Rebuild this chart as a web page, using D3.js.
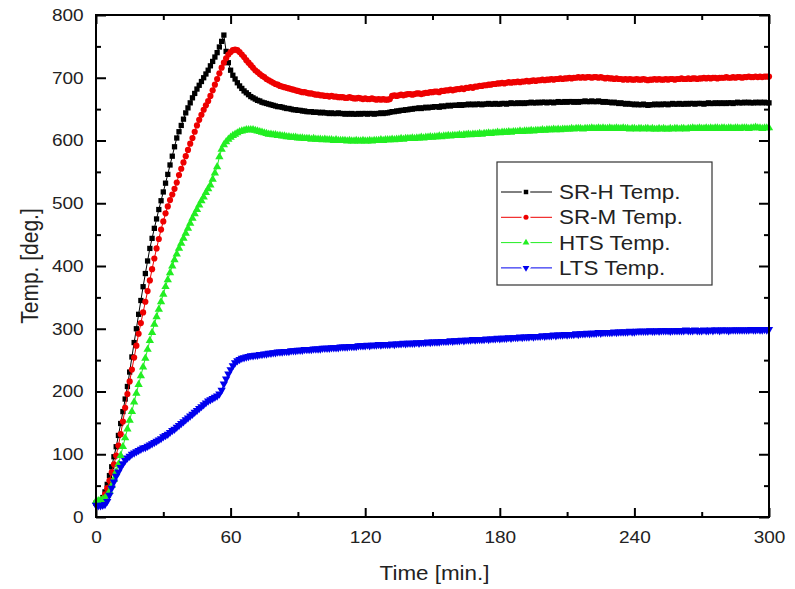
<!DOCTYPE html>
<html>
<head>
    <title>Temperature vs Time</title>
    <script src="https://d3js.org/d3.v7.min.js"></script>
    <style>
        body { margin: 0; background: #fff; }
        text { font-family: "Liberation Sans", Arial, sans-serif; fill: #222; }
        .frame { fill: none; stroke: #000; stroke-width: 2px; }
        .axis path { display: none; }
        .axis line { stroke: #000; stroke-width: 2px; }
        .axis text { font-size: 17px; }
        .series { fill: none; stroke-width: 1px; }
    </style>
</head>
<body>
    <svg width="795" height="589"></svg>
    <script>
        // sampling: one reading per minute, 0..300 min
        const minutes = d3.range(0, 301, 1);

        const srH = [
            22, 23, 25, 31, 40, 52, 66, 80, 96, 112,
            130, 149, 168, 188, 208, 231, 255, 278, 300, 323,
            345, 367, 388, 408, 428, 444, 460, 475, 490, 504,
            518, 532, 546, 561, 575, 590, 604, 614, 624, 634,
            644, 652, 660, 668, 675, 682, 688, 694, 700, 706,
            712, 719, 726, 733, 740, 749, 758, 768, 742, 724,
            712, 704, 698, 692, 687, 683, 679, 676, 673, 670,
            668, 666, 664, 663, 661, 660, 659, 658, 657, 656,
            655, 654, 654, 653, 652, 651, 651, 650, 649, 649,
            648, 648, 647, 647, 646, 646, 646, 645, 645, 645,
            644, 645, 644, 644, 643, 644, 643, 643, 644, 643,
            643, 642, 643, 642, 643, 642, 642, 643, 642, 643,
            643, 642, 643, 643, 642, 643, 643, 644, 643, 644,
            644, 645, 646, 646, 647, 647, 648, 648, 649, 649,
            650, 650, 651, 651, 652, 651, 652, 653, 652, 653,
            653, 654, 654, 653, 655, 654, 655, 656, 655, 656,
            656, 656, 657, 656, 657, 657, 658, 657, 658, 657,
            658, 658, 657, 658, 658, 659, 658, 658, 659, 658,
            658, 659, 659, 658, 659, 660, 659, 659, 660, 659,
            660, 659, 660, 660, 661, 660, 660, 661, 660, 661,
            661, 660, 661, 661, 660, 661, 662, 661, 661, 662,
            661, 662, 662, 661, 662, 661, 662, 662, 663, 662,
            662, 663, 662, 662, 663, 662, 661, 662, 661, 661,
            660, 661, 660, 659, 660, 659, 658, 659, 658, 658,
            657, 658, 657, 657, 658, 657, 656, 657, 657, 658,
            657, 658, 657, 658, 658, 657, 658, 659, 658, 658,
            659, 658, 658, 659, 658, 659, 659, 658, 659, 659,
            659, 658, 659, 660, 659, 659, 660, 659, 660, 659,
            660, 659, 660, 660, 659, 660, 661, 660, 660, 661,
            660, 661, 660, 660, 661, 660, 661, 660, 661, 660, 660
        ];

        const srM = [
            22, 23, 25, 29, 36, 46, 58, 71, 84, 98,
            114, 132, 152, 174, 196, 216, 235, 254, 273, 292,
            309, 326, 343, 360, 377, 395, 412, 428, 443, 458,
            471, 484, 495, 505, 514, 523, 533, 545, 555, 565,
            575, 585, 595, 604, 614, 624, 633, 641, 649, 656,
            663, 671, 680, 689, 698, 707, 716, 724, 731, 737,
            741, 744, 745, 744, 741, 737, 733, 728, 724, 720,
            716, 712, 709, 706, 703, 701, 698, 696, 694, 692,
            690, 689, 687, 686, 685, 684, 683, 682, 681, 680,
            679, 678, 677, 677, 676, 675, 675, 674, 673, 673,
            672, 672, 671, 671, 670, 671, 670, 670, 669, 669,
            669, 668, 668, 669, 668, 667, 667, 668, 667, 666,
            667, 666, 666, 667, 666, 665, 666, 665, 666, 665,
            665, 666, 671, 672, 671, 672, 673, 672, 673, 674,
            674, 673, 674, 675, 675, 674, 675, 676, 676, 677,
            677, 678, 678, 677, 679, 679, 680, 680, 681, 680,
            681, 682, 682, 683, 682, 684, 684, 685, 684, 686,
            686, 687, 687, 688, 688, 689, 689, 690, 690, 691,
            691, 692, 691, 692, 693, 692, 693, 693, 694, 693,
            694, 694, 695, 694, 695, 696, 695, 696, 696, 697,
            696, 697, 697, 698, 697, 698, 698, 699, 698, 699,
            699, 700, 699, 700, 700, 701, 700, 701, 700, 701,
            701, 700, 701, 701, 700, 701, 700, 699, 700, 699,
            699, 698, 699, 698, 698, 697, 698, 697, 698, 697,
            697, 698, 697, 697, 698, 697, 696, 697, 697, 698,
            697, 698, 697, 697, 698, 697, 698, 698, 697, 698,
            698, 699, 698, 698, 699, 698, 699, 699, 698, 699,
            699, 700, 699, 700, 699, 700, 700, 699, 700, 700,
            700, 701, 700, 700, 701, 700, 701, 701, 700, 701,
            701, 702, 701, 701, 702, 701, 702, 701, 702, 702, 702
        ];

        const hts = [
            25, 26, 27, 28, 30, 34, 41, 50, 60, 72,
            84, 98, 112, 126, 140, 154, 168, 183, 197, 211,
            225, 239, 253, 267, 281, 294, 307, 319, 331, 343,
            355, 367, 378, 389, 400, 410, 419, 428, 436, 444,
            452, 460, 468, 476, 483, 490, 497, 504, 510, 517,
            523, 529, 538, 548, 558, 574, 586, 593, 598, 602,
            605, 608, 610, 612, 614, 615, 616, 617, 617, 617,
            617, 616, 615, 614, 613, 612, 611, 610, 610, 609,
            609, 608, 608, 607, 607, 606, 606, 605, 605, 605,
            604, 604, 604, 603, 603, 603, 602, 603, 602, 602,
            602, 601, 602, 601, 601, 601, 600, 601, 600, 600,
            600, 600, 599, 600, 599, 599, 600, 599, 599, 600,
            599, 599, 600, 599, 600, 600, 600, 601, 600, 601,
            601, 601, 602, 601, 602, 602, 603, 602, 603, 603,
            603, 604, 603, 604, 604, 605, 604, 605, 605, 606,
            605, 606, 606, 607, 606, 607, 607, 608, 607, 608,
            608, 608, 609, 608, 609, 609, 610, 609, 610, 610,
            610, 611, 610, 611, 611, 612, 611, 612, 612, 613,
            612, 613, 613, 613, 614, 613, 614, 614, 614, 615,
            614, 615, 615, 615, 616, 615, 616, 616, 616, 617,
            616, 617, 617, 617, 618, 617, 618, 617, 618, 618,
            618, 618, 619, 618, 619, 619, 619, 618, 619, 619,
            619, 620, 619, 619, 620, 619, 620, 619, 619, 620,
            619, 619, 620, 619, 619, 620, 619, 619, 618, 619,
            619, 618, 619, 619, 618, 619, 619, 618, 619, 618,
            618, 619, 618, 619, 618, 618, 619, 618, 619, 619,
            618, 619, 619, 618, 619, 619, 620, 619, 619, 620,
            619, 619, 620, 619, 620, 619, 620, 620, 619, 620,
            620, 619, 620, 620, 619, 620, 620, 619, 620, 620,
            620, 619, 620, 620, 621, 620, 620, 619, 620, 620, 620
        ];

        const lts = [
            19, 18, 18, 19, 20, 25, 35, 46, 56, 65,
            72, 79, 85, 90, 94, 97, 100, 102, 104, 106,
            108, 110, 111, 113, 115, 117, 119, 121, 123, 125,
            128, 130, 132, 135, 138, 140, 143, 146, 149, 152,
            155, 158, 161, 164, 167, 170, 173, 176, 179, 182,
            185, 187, 189, 191, 193, 196, 202, 212, 220, 228,
            235, 241, 246, 249, 251, 253, 254, 255, 256, 257,
            257, 258, 258, 259, 259, 260, 260, 261, 261, 262,
            262, 263, 263, 263, 264, 264, 264, 265, 265, 265,
            266, 266, 266, 267, 267, 267, 267, 268, 268, 268,
            268, 269, 269, 269, 269, 270, 270, 270, 270, 271,
            271, 271, 271, 272, 272, 272, 272, 273, 273, 273,
            273, 274, 273, 274, 274, 274, 275, 274, 275, 275,
            275, 275, 276, 275, 276, 276, 276, 277, 276, 277,
            277, 277, 277, 278, 277, 278, 278, 278, 279, 278,
            279, 279, 279, 279, 280, 280, 280, 280, 281, 280,
            281, 281, 281, 282, 281, 282, 282, 282, 283, 282,
            283, 283, 283, 283, 284, 283, 284, 284, 284, 285,
            284, 285, 285, 285, 286, 285, 286, 286, 286, 287,
            286, 287, 287, 287, 288, 287, 288, 288, 288, 289,
            288, 289, 289, 289, 290, 289, 290, 290, 290, 291,
            290, 291, 291, 291, 292, 291, 292, 292, 292, 293,
            292, 293, 293, 293, 294, 293, 294, 294, 294, 294,
            294, 295, 294, 295, 295, 295, 295, 295, 296, 295,
            295, 296, 296, 296, 296, 296, 296, 297, 296, 296,
            297, 296, 297, 297, 297, 297, 296, 297, 297, 297,
            297, 297, 297, 298, 297, 297, 297, 298, 297, 297,
            297, 298, 297, 297, 298, 297, 298, 298, 297, 298,
            298, 298, 297, 298, 298, 298, 298, 298, 298, 298,
            298, 298, 299, 298, 298, 299, 298, 298, 299, 298, 299
        ];

        const seriesNames = ["SR-H Temp.", "SR-M Temp.", "HTS Temp.", "LTS Temp."];
        const seriesValues = [srH, srM, hts, lts];
        const seriesColors = ["#000000", "#ee0000", "#22ee22", "#0000ee"];
        const seriesSymbols = [d3.symbolSquare, d3.symbolCircle, d3.symbolTriangle, d3.symbolTriangle];
        const seriesFlip = [false, false, false, true];
        const symbolSizes = [28, 30, 30, 30];

        const xTicks = [0, 60, 120, 180, 240, 300];
        const yTicks = [0, 100, 200, 300, 400, 500, 600, 700, 800];

        const stretch = 1.12; // the picture is a bit wider than tall
        const plotLeft = 96, plotRight = 769, plotTop = 15, plotBottom = 517;

        const svg = d3.select("svg");
        const x = d3.scaleLinear().domain([0, 300]).range([plotLeft, plotRight]);
        const y = d3.scaleLinear().domain([0, 800]).range([plotBottom, plotTop]);

        // axes, ticks pointing inward
        svg.append("g").attr("class", "axis")
            .attr("transform", `translate(0,${plotBottom})`)
            .call(d3.axisBottom(x).tickValues(xTicks).tickSizeInner(-9).tickSizeOuter(0).tickPadding(14))
            .selectAll("text").attr("dy", "0.71em").attr("transform", `scale(${stretch},1)`);
        svg.append("g").attr("class", "axis")
            .attr("transform", `translate(0,${plotBottom})`)
            .call(d3.axisBottom(x).tickValues([30, 90, 150, 210, 270]).tickSizeInner(-5).tickSizeOuter(0).tickFormat(""));
        svg.append("g").attr("class", "axis")
            .attr("transform", `translate(0,${plotTop})`)
            .call(d3.axisTop(x).tickValues(xTicks).tickSizeInner(-9).tickSizeOuter(0).tickFormat(""));
        svg.append("g").attr("class", "axis")
            .attr("transform", `translate(0,${plotTop})`)
            .call(d3.axisTop(x).tickValues([30, 90, 150, 210, 270]).tickSizeInner(-5).tickSizeOuter(0).tickFormat(""));

        svg.append("g").attr("class", "axis")
            .attr("transform", `translate(${plotLeft},0)`)
            .call(d3.axisLeft(y).tickValues(yTicks).tickSizeInner(-10).tickSizeOuter(0).tickPadding(11))
            .selectAll("text").attr("transform", `scale(${stretch},1)`);
        svg.append("g").attr("class", "axis")
            .attr("transform", `translate(${plotLeft},0)`)
            .call(d3.axisLeft(y).tickValues(d3.range(50, 800, 100)).tickSizeInner(-5).tickSizeOuter(0).tickFormat(""));
        svg.append("g").attr("class", "axis")
            .attr("transform", `translate(${plotRight},0)`)
            .call(d3.axisRight(y).tickValues(yTicks).tickSizeInner(-10).tickSizeOuter(0).tickFormat(""));
        svg.append("g").attr("class", "axis")
            .attr("transform", `translate(${plotRight},0)`)
            .call(d3.axisRight(y).tickValues(d3.range(50, 800, 100)).tickSizeInner(-5).tickSizeOuter(0).tickFormat(""));

        // series
        const line = d3.line().x((d, i) => x(minutes[i])).y(d => y(d));
        seriesValues.forEach((vals, k) => {
            const g = svg.append("g");
            g.append("path").attr("class", "series")
                .attr("stroke", seriesColors[k])
                .attr("d", line(vals));
            const sym = d3.symbol().type(seriesSymbols[k]).size(symbolSizes[k]);
            g.selectAll("path.pt").data(vals).join("path")
                .attr("class", "pt")
                .attr("fill", seriesColors[k])
                .attr("d", sym)
                .attr("transform", (d, i) => `translate(${x(minutes[i])},${y(d)})` + (seriesFlip[k] ? " rotate(180)" : ""));
        });

        svg.append("rect").attr("class", "frame")
            .attr("x", plotLeft).attr("y", plotTop)
            .attr("width", plotRight - plotLeft).attr("height", plotBottom - plotTop);

        // axis titles
        svg.append("text")
            .attr("transform", `translate(${(plotLeft + plotRight) / 2 + 2},580) scale(${stretch},1)`)
            .attr("text-anchor", "middle")
            .style("font-size", "20px")
            .text("Time [min.]");
        svg.append("text")
            .attr("transform", `translate(38,${(plotTop + plotBottom) / 2}) rotate(-90) scale(1,${stretch})`)
            .attr("text-anchor", "middle")
            .style("font-size", "21px")
            .text("Temp. [deg.]");

        // legend
        const legend = svg.append("g").attr("transform", "translate(497,162)");
        legend.append("rect")
            .attr("width", 215).attr("height", 123)
            .attr("fill", "#fff").attr("stroke", "#333").attr("stroke-width", 1.2);
        seriesNames.forEach((name, k) => {
            const row = legend.append("g").attr("transform", `translate(0,${30 + k * 25.3})`);
            row.append("line").attr("x1", 4).attr("x2", 55).attr("y1", 0).attr("y2", 0)
                .attr("stroke", seriesColors[k]).attr("stroke-width", 1);
            row.append("path")
                .attr("d", d3.symbol().type(seriesSymbols[k]).size(20))
                .attr("fill", seriesColors[k])
                .attr("stroke", "#fff").attr("stroke-width", 4).attr("paint-order", "stroke")
                .attr("transform", "translate(29,0)" + (seriesFlip[k] ? " rotate(180)" : ""));
            row.append("text")
                .attr("transform", `translate(62,7) scale(${stretch},1)`)
                .style("font-size", "20px")
                .text(name);
        });
    </script>
</body>
</html>
